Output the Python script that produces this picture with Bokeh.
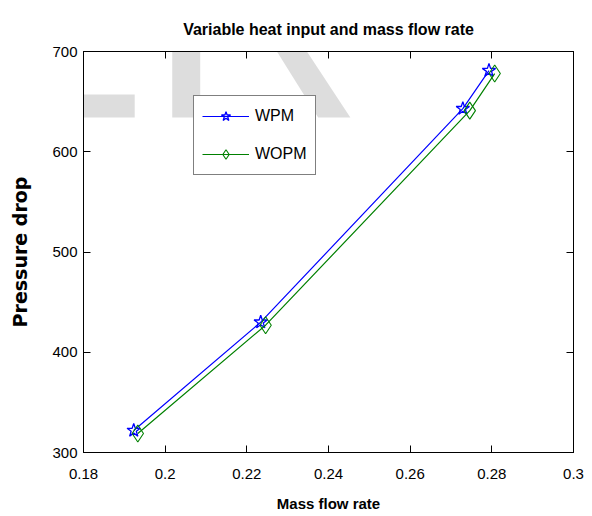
from bokeh.plotting import figure
from bokeh.models import Range1d, LinearAxis, FixedTicker, Label, Legend, LegendItem
from bokeh.embed import file_html
from bokeh.resources import INLINE

# ---- data ----
x_ticks = [0.18, 0.2, 0.22, 0.24, 0.26, 0.28, 0.3]
x_tick_labels = ["0.18", "0.2", "0.22", "0.24", "0.26", "0.28", "0.3"]
y_ticks = [300, 400, 500, 600, 700]
y_tick_labels = ["300", "400", "500", "600", "700"]

wpm_flow = [0.1923, 0.2234, 0.2729, 0.2793]
wpm_dp = [322, 430, 643, 681]
wopm_flow = [0.1933, 0.2246, 0.2746, 0.2807]
wopm_dp = [319, 427, 641, 678]

title_text = "Variable heat input and mass flow rate"
x_label = "Mass flow rate"
y_label = "Pressure drop"
watermark = "ER"

SANS = "Liberation Sans"

p = figure(width=592, height=516, output_backend="svg", toolbar_location=None,
           x_range=Range1d(0.18, 0.3), y_range=Range1d(300, 700),
           x_axis_label=x_label, y_axis_label=y_label,
           min_border_left=83, min_border_right=19, min_border_top=51, min_border_bottom=64)

p.background_fill_color = "white"
p.border_fill_color = "white"
p.outline_line_color = "black"
p.xgrid.visible = False
p.ygrid.visible = False

p.title.text = title_text
p.title.align = "center"
p.title.text_font = SANS
p.title.text_font_style = "bold"
p.title.text_font_size = "16px"
p.title.text_color = "black"
p.title.standoff = 28


def style_axis(ax, ticks, labels):
    ax.ticker = FixedTicker(ticks=ticks)
    ax.axis_line_color = "black"
    ax.axis_line_width = 1
    ax.major_tick_line_color = "black"
    ax.major_tick_in = 7
    ax.major_tick_out = 0
    ax.minor_tick_line_color = None
    ax.major_label_text_font = SANS
    ax.major_label_text_color = "black"
    ax.major_label_text_font_size = "15px"
    ax.major_label_overrides = dict(zip(ticks, labels))


xa = p.xaxis[0]
style_axis(xa, x_ticks, x_tick_labels)
xa.major_label_standoff = 16
xa.axis_label_text_font = SANS
xa.axis_label_text_font_style = "bold"
xa.axis_label_text_font_size = "15px"
xa.axis_label_text_color = "black"
xa.axis_label_standoff = 13

ya = p.yaxis[0]
style_axis(ya, y_ticks, y_tick_labels)
ya.major_label_standoff = 6
ya.axis_label_text_font = "DejaVu Sans"
ya.axis_label_text_font_style = "bold"
ya.axis_label_text_font_size = "19px"
ya.axis_label_text_color = "black"
ya.axis_label_standoff = 18

top_ax = LinearAxis()
style_axis(top_ax, x_ticks, ["" for _ in x_ticks])
top_ax.major_label_standoff = 0
p.add_layout(top_ax, "above")
right_ax = LinearAxis()
style_axis(right_ax, y_ticks, ["" for _ in y_ticks])
right_ax.major_label_standoff = 0
p.add_layout(right_ax, "right")

# faint background watermark (black at low alpha -> light grey on white)
wm = Label(x=0.1467, y=738, text=watermark, text_font=SANS,
           text_font_size="300px", text_color="black", text_alpha=0.135,
           text_baseline="alphabetic", text_align="left", level="annotation")
p.add_layout(wm)

blue = "#0000ff"
green = "#008000"

l1 = p.line(wpm_flow, wpm_dp, line_color=blue, line_width=1.2)
m1 = p.scatter(wpm_flow, wpm_dp, marker="star", size=14, line_color=blue,
               fill_color=None, line_width=1.3)
l2 = p.line(wopm_flow, wopm_dp, line_color=green, line_width=1.2)
m2 = p.scatter(wopm_flow, wopm_dp, marker="diamond", size=17, line_color=green,
               fill_color=None, line_width=1.1)

legend = Legend(items=[LegendItem(label="WPM", renderers=[l1, m1]),
                       LegendItem(label="WOPM", renderers=[l2, m2])],
                location=(110, 277), orientation="vertical")
legend.label_text_font = SANS
legend.label_text_font_size = "16px"
legend.label_text_color = "black"
legend.glyph_width = 47
legend.glyph_height = 24
legend.label_height = 24
legend.label_standoff = 6
legend.spacing = 14
legend.padding = 8
legend.margin = 0
legend.border_line_color = "black"
legend.border_line_width = 1
legend.background_fill_color = "white"
legend.background_fill_alpha = 1.0
p.add_layout(legend, "center")

open("out.html", "w").write(file_html(p, INLINE))
